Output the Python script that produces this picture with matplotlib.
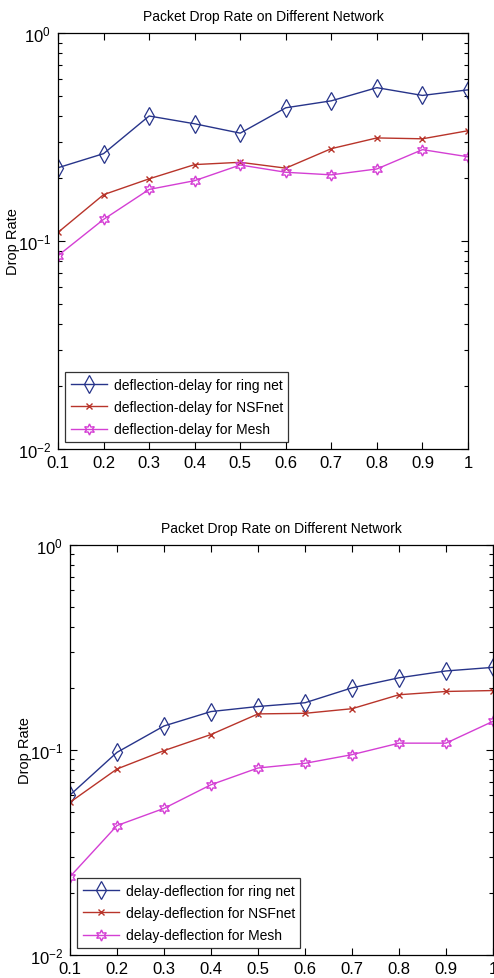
import numpy as np
import matplotlib
matplotlib.use("Agg")
import matplotlib.pyplot as plt
from matplotlib.ticker import LogLocator, FixedLocator

plt.rcParams['font.family'] = ['Liberation Sans', 'DejaVu Sans']

load = [0.1, 0.2, 0.3, 0.4, 0.5, 0.6, 0.7, 0.8, 0.9, 1.0]
xtick_labels = ['0.1', '0.2', '0.3', '0.4', '0.5', '0.6', '0.7', '0.8', '0.9', '1']

# top: deflection-delay
dd_ring = [0.225, 0.263, 0.399, 0.366, 0.330, 0.437, 0.472, 0.546, 0.501, 0.533]
dd_nsf = [0.110, 0.167, 0.199, 0.233, 0.239, 0.224, 0.278, 0.313, 0.310, 0.339]
dd_mesh = [0.085, 0.127, 0.177, 0.195, 0.232, 0.214, 0.208, 0.222, 0.275, 0.254]

# bottom: delay-deflection
de_ring = [0.0603, 0.0974, 0.131, 0.154, 0.163, 0.170, 0.201, 0.225, 0.243, 0.253]
de_nsf = [0.0556, 0.0808, 0.0993, 0.119, 0.150, 0.151, 0.159, 0.186, 0.193, 0.195]
de_mesh = [0.0241, 0.0428, 0.0519, 0.0677, 0.0817, 0.0861, 0.0949, 0.108, 0.108, 0.138]

c_blue = '#27348a'
c_red = '#b8342a'
c_mag = '#d43fd4'
hexagram = (6, 1, 0)

fig = plt.figure(figsize=(4.94, 9.79), dpi=100)
ax1 = fig.add_axes([58/494, 1-450/979, 410/494, 416/979])
ax2 = fig.add_axes([70/494, 1-956/979, 423/494, 410/979])


def draw(ax, ring, nsf, mesh, prefix, ylab_x):
    ax.semilogy(load, ring, color=c_blue, lw=1, marker='d', ms=9, mfc='none',
                mew=0.9, label=prefix + ' for ring net')
    ax.semilogy(load, nsf, color=c_red, lw=1, marker='x', ms=5, mew=1,
                label=prefix + ' for NSFnet')
    ax.semilogy(load, mesh, color=c_mag, lw=1, marker=hexagram, ms=8, mfc='none',
                mew=1, label=prefix + ' for Mesh')
    ax.set_xlim(0.1, 1.0)
    ax.set_ylim(1e-2, 1e0)
    ax.xaxis.set_major_locator(FixedLocator(load))
    ax.set_xticklabels(xtick_labels)
    ax.yaxis.set_major_locator(LogLocator(base=10, numticks=5))
    ax.yaxis.set_minor_locator(LogLocator(base=10, subs=np.arange(2, 10), numticks=20))
    ax.tick_params(which='both', direction='in', top=True, right=True)
    ax.tick_params(which='major', length=5, width=0.8, labelsize=12)
    ax.tick_params(axis='y', which='major', pad=5)
    ax.tick_params(axis='x', which='major', pad=4)
    ax.tick_params(which='minor', length=3, width=0.8)
    for s in ax.spines.values():
        s.set_linewidth(0.9)
    ax.set_title('Packet Drop Rate on Different Network', fontsize=10, pad=9)
    ax.set_ylabel('Drop Rate', fontsize=10.5)
    ax.yaxis.set_label_coords(ylab_x, 0.5)
    leg = ax.legend(loc='lower left', fontsize=10, frameon=True, fancybox=False,
                    edgecolor='black', handlelength=2.6, borderaxespad=0.5,
                    labelspacing=0.6, handletextpad=0.5)
    leg.get_frame().set_linewidth(0.9)


draw(ax1, dd_ring, dd_nsf, dd_mesh, 'deflection-delay', -0.093)
draw(ax2, de_ring, de_nsf, de_mesh, 'delay-deflection', -0.090)

fig.savefig('out.png', dpi=100)
